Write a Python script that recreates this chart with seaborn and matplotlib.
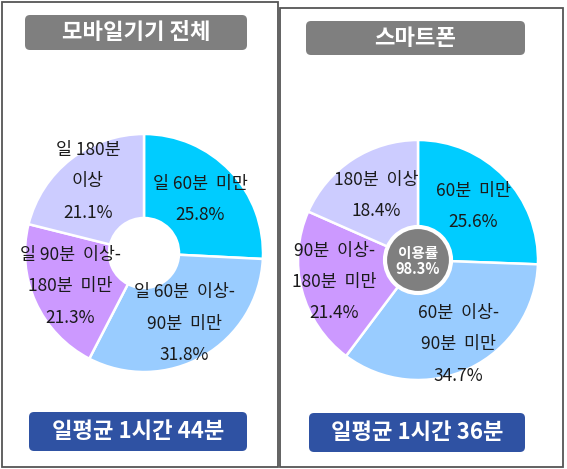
import matplotlib
matplotlib.use("Agg")
import matplotlib.pyplot as plt
from matplotlib.patches import FancyBboxPatch, Rectangle, Circle
import numpy as np
import seaborn as sns

# ---------------- data ----------------
left_title = "모바일기기 전체"
right_title = "스마트폰"
left_labels = ["일 60분  미만", "일 60분  이상-\n90분  미만", "일 90분  이상-\n180분  미만", "일 180분\n이상"]
left_values = [25.8, 31.8, 21.3, 21.1]
right_labels = ["60분  미만", "60분  이상-\n90분  미만", "90분  이상-\n180분  미만", "180분  이상"]
right_values = [25.6, 34.7, 21.4, 18.4]
left_avg = "일평균 1시간 44분"
right_avg = "일평균 1시간 36분"
center_text = "이용률\n98.3%"

# ---------------- style ----------------
sns.set_theme(style="white")
plt.rcParams['font.family'] = ['Noto Sans CJK KR', 'DejaVu Sans']
palette = sns.color_palette(["#00CCFF", "#99CCFF", "#CC99FF", "#CCCCFF"])

W, H = 567, 469
fig = plt.figure(figsize=(W / 100, H / 100), dpi=100)
ax = fig.add_axes([0, 0, 1, 1])

def Y(y):
    return H - y

# panel borders
ax.add_patch(Rectangle((2, Y(467)), 276, 465, fill=False, ec="#555555", lw=1.3, zorder=1))
ax.add_patch(Rectangle((280, Y(467)), 283, 459, fill=False, ec="#555555", lw=1.3, zorder=1))

def pie_panel(values, labels, cx, cy, r, dists, hole=None):
    wedgeprops = dict(edgecolor="white", linewidth=1.8)
    if hole is not None:
        wedgeprops["width"] = r - hole
    wedges, _ = ax.pie(values, colors=palette, startangle=90, counterclock=False,
                       center=(cx, Y(cy)), radius=r, wedgeprops=wedgeprops, frame=True)
    for w, lab, val, d in zip(wedges, labels, values, dists):
        th = np.deg2rad((w.theta1 + w.theta2) / 2)
        x = cx + d * r * np.cos(th)
        y = Y(cy) + d * r * np.sin(th)
        ax.text(x, y, f"{lab}\n{val:.1f}%", ha="center", va="center", fontsize=12.5,
                color="#1a1a1a", linespacing=1.95, zorder=5)

pie_panel(left_values, left_labels, 144, 253, 119, [0.65, 0.685, 0.68, 0.765], hole=35)
pie_panel(right_values, right_labels, 418, 260, 120, [0.64, 0.78, 0.72, 0.64])

# center badge in right pie
ax.add_patch(Circle((418, Y(260)), 33, fc="#7F7F7F", ec="white", lw=3, zorder=4))
ax.text(418, Y(261), center_text, ha="center", va="center", fontsize=10.5, fontweight="bold",
        color="white", linespacing=1.05, zorder=6)

# title boxes
def box(x0, y0, x1, y1, color, text):
    ax.add_patch(FancyBboxPatch((x0, Y(y1)), x1 - x0, y1 - y0,
                                boxstyle="round,pad=0,rounding_size=5",
                                fc=color, ec="none", zorder=3))
    ax.text((x0 + x1) / 2, Y((y0 + y1) / 2), text, ha="center", va="center",
            fontsize=16, fontweight="bold", color="white", zorder=6)

box(25, 15, 247, 50, "#7F7F7F", left_title)
box(306, 21, 525, 55, "#7F7F7F", right_title)
box(29, 412, 247, 451, "#2F52A3", left_avg)
box(309, 413, 525, 452, "#2F52A3", right_avg)

ax.set_xlim(0, W)
ax.set_ylim(0, H)
ax.set_aspect("auto")
ax.axis("off")

fig.savefig("out.png", dpi=100, facecolor="white")
